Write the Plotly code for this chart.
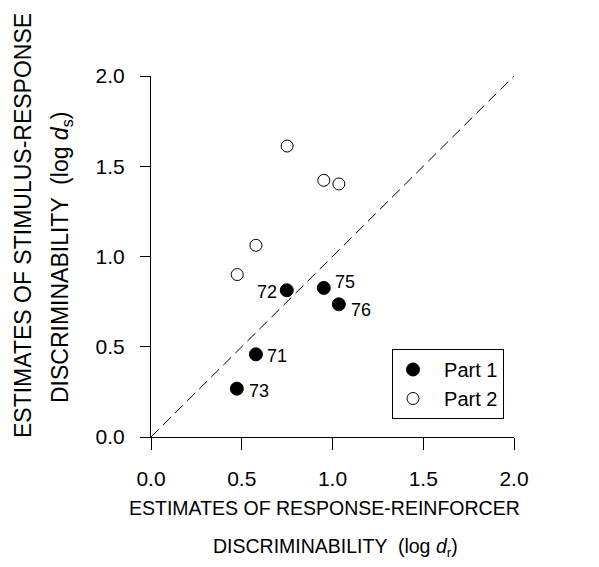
import plotly.graph_objects as go

# Data
part1_x = [0.473, 0.578, 0.748, 0.952, 1.035]
part1_y = [0.268, 0.458, 0.813, 0.826, 0.735]
part1_labels = ["73", "71", "72", "75", "76"]
label_dx = [22, 21, -20, 21, 22]
label_dy = [-2, -2, -2, 6, -6]

part2_x = [0.475, 0.578, 0.750, 0.952, 1.035]
part2_y = [0.900, 1.062, 1.612, 1.422, 1.402]

series_names = ["Part 1", "Part 2"]

diag = [0.0, 2.0]
tick_vals = [0.0, 0.5, 1.0, 1.5, 2.0]
tick_text = ["0.0", "0.5", "1.0", "1.5", "2.0"]

FONT = "Liberation Sans, Arial, Helvetica, sans-serif"
NBSP = "\u00a0\u00a0"

W, H = 599, 567
L, R, T, B = 151, 85, 76, 130
PW, PH = W - L - R, H - T - B


def px(x):
    return (x - L) / PW


def py(y):
    return (H - B - y) / PH


fig = go.Figure()

fig.add_trace(go.Scatter(
    x=diag, y=diag, mode="lines",
    line=dict(color="black", width=1, dash="11px,6px"),
    showlegend=False, hoverinfo="skip",
))

fig.add_trace(go.Scatter(
    x=part1_x, y=part1_y, mode="markers", name=NBSP + series_names[0],
    marker=dict(symbol="circle", size=13, color="black",
                line=dict(color="black", width=1)),
))
fig.add_trace(go.Scatter(
    x=part2_x, y=part2_y, mode="markers", name=NBSP + series_names[1],
    marker=dict(symbol="circle", size=12, color="white",
                line=dict(color="black", width=1)),
))

annotations = []
for x, y, t, dx, dy in zip(part1_x, part1_y, part1_labels, label_dx, label_dy):
    annotations.append(dict(
        x=x, y=y, xref="x", yref="y", text=t, showarrow=False,
        xshift=dx, yshift=dy, font=dict(family=FONT, size=18, color="black"),
        xanchor="center", yanchor="middle",
    ))

# axis titles
annotations += [
    dict(xref="paper", yref="paper", x=px(23), y=py(226), textangle=-90,
         text="ESTIMATES OF STIMULUS-RESPONSE", showarrow=False,
         xanchor="center", yanchor="middle",
         font=dict(family=FONT, size=23, color="black")),
    dict(xref="paper", yref="paper", x=px(61), y=py(258), textangle=-90,
         text="DISCRIMINABILITY  (log <i>d</i><sub>s</sub>)", showarrow=False,
         xanchor="center", yanchor="middle",
         font=dict(family=FONT, size=23, color="black")),
    dict(xref="paper", yref="paper", x=px(127), y=py(508),
         text="ESTIMATES OF RESPONSE-REINFORCER", showarrow=False,
         xanchor="left", yanchor="middle",
         font=dict(family=FONT, size=19.5, color="black")),
    dict(xref="paper", yref="paper", x=px(211), y=py(547),
         text="DISCRIMINABILITY  (log <i>d</i><sub>r</sub>)", showarrow=False,
         xanchor="left", yanchor="middle",
         font=dict(family=FONT, size=19.5, color="black")),
]

axis_common = dict(
    range=[0, 2], tickvals=tick_vals, ticktext=tick_text,
    showgrid=False, zeroline=False, showline=True, linecolor="black",
    linewidth=1, ticks="outside", tickcolor="black", tickwidth=1,
    tickfont=dict(family=FONT, size=21, color="black"),
)

fig.update_layout(
    width=W, height=H,
    margin=dict(l=L, r=R, t=T, b=B, autoexpand=False),
    paper_bgcolor="white", plot_bgcolor="white",
    xaxis=dict(**axis_common, ticklen=12, ticklabelstandoff=11),
    yaxis=dict(**axis_common, ticklen=10, ticklabelstandoff=11),
    annotations=annotations,
    legend=dict(
        x=px(392), y=py(349), xanchor="left", yanchor="top",
        bordercolor="black", borderwidth=1, bgcolor="white",
        font=dict(family=FONT, size=20, color="black"),
        itemwidth=30, tracegroupgap=0,
    ),
    showlegend=True,
)

fig.write_html("out.html")
